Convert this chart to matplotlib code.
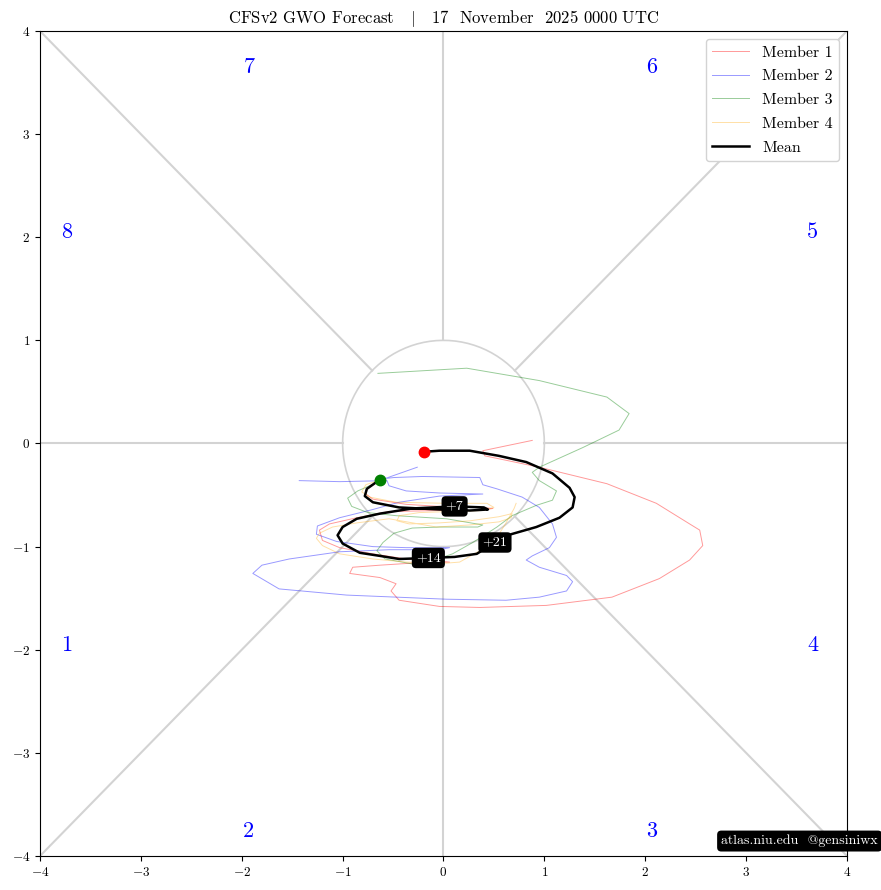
import numpy as np
import matplotlib
matplotlib.use('Agg')
import matplotlib.pyplot as plt

plt.rcParams['font.family'] = ['cmr10', 'DejaVu Serif']
plt.rcParams['mathtext.fontset'] = 'cm'
plt.rcParams['axes.formatter.use_mathtext'] = True
plt.rcParams['axes.unicode_minus'] = True

# ensemble members (GWO phase space, x/y)
m1_x = [-0.65, -0.75, -0.77, -0.70, -0.37, -0.04, 0.36, 0.49, 0.36, -0.04, -0.54, -0.86, -1.13, -1.23,
        -1.20, -1.03, -0.70, -0.37, -0.04, 0.06, -0.31, -0.63, -0.90, -0.93, -0.63, -0.47, -0.52, -0.44,
        -0.04, 0.36, 1.02, 1.67, 2.14, 2.44, 2.57, 2.54, 2.44, 2.11, 1.62, 0.95, 0.41, 0.39, 0.88]
m1_y = [-0.37, -0.43, -0.49, -0.54, -0.59, -0.61, -0.62, -0.63, -0.65, -0.65, -0.66, -0.72, -0.78, -0.84,
        -0.94, -1.01, -1.07, -1.12, -1.14, -1.15, -1.16, -1.18, -1.20, -1.26, -1.30, -1.36, -1.43, -1.52,
        -1.58, -1.59, -1.57, -1.49, -1.31, -1.13, -0.99, -0.84, -0.78, -0.58, -0.39, -0.23, -0.12, -0.07, 0.03]

m2_x = [-0.26, -0.58, -0.49, -0.21, 0.36, 0.39, 0.53, 0.78, 0.95, 1.08, 1.12, 1.05, 0.88, 0.82, 0.95,
        1.22, 1.28, 1.22, 0.95, 0.62, 0.03, -0.96, -1.63, -1.89, -1.80, -1.53, -1.03, -0.54, -0.04, 0.06,
        -0.37, -0.70, -1.06, -1.26, -1.25, -1.03, -0.70, -0.44, -0.04, 0.39, -0.04, -0.37, -0.54, -0.56,
        -1.03, -1.43]
m2_y = [-0.23, -0.34, -0.33, -0.32, -0.33, -0.40, -0.44, -0.52, -0.62, -0.78, -0.91, -1.01, -1.09, -1.13,
        -1.20, -1.28, -1.34, -1.43, -1.49, -1.52, -1.51, -1.47, -1.41, -1.26, -1.18, -1.12, -1.05, -1.03,
        -1.03, -1.01, -1.01, -1.00, -0.95, -0.88, -0.80, -0.72, -0.64, -0.57, -0.51, -0.49, -0.48, -0.46,
        -0.41, -0.36, -0.37, -0.36]

m3_x = [-0.71, -0.85, -0.95, -0.91, -0.75, -0.47, 0.03, 0.39, 0.34, -0.04, -0.31, -0.49, -0.60, -0.66,
        -0.58, -0.24, 0.09, 0.29, 0.53, 0.68, 0.92, 1.08, 1.12, 0.95, 0.88, 0.95, 1.38, 1.74, 1.84, 1.62,
        0.95, 0.23, -0.65]
m3_y = [-0.40, -0.46, -0.53, -0.61, -0.67, -0.70, -0.73, -0.79, -0.81, -0.81, -0.82, -0.87, -0.96, -1.04,
        -1.12, -1.18, -1.07, -0.96, -0.81, -0.70, -0.60, -0.55, -0.46, -0.36, -0.28, -0.23, -0.04, 0.13,
        0.29, 0.45, 0.61, 0.73, 0.68]

m4_x = [-0.65, -0.77, -0.81, -0.73, -0.47, 0.03, 0.43, 0.50, 0.39, 0.06, -0.24, -0.44, -0.46, -0.34,
        -0.04, 0.26, 0.55, 0.68, 0.67, 0.55, 0.26, -0.07, -0.54, -0.86, -1.10, -1.23, -1.26, -1.20, -1.03,
        -0.70, -0.37, 0.03, 0.16, 0.36, 0.53, 0.62, 0.70, 0.72]
m4_y = [-0.36, -0.40, -0.47, -0.52, -0.57, -0.58, -0.58, -0.62, -0.65, -0.66, -0.67, -0.70, -0.75, -0.78,
        -0.77, -0.75, -0.71, -0.68, -0.72, -0.76, -0.79, -0.81, -0.73, -0.77, -0.81, -0.87, -0.92, -0.99,
        -1.07, -1.12, -1.15, -1.16, -1.15, -1.04, -0.91, -0.77, -0.63, -0.58]

mean_x = [-0.63, -0.76, -0.78, -0.70, -0.44, -0.04, 0.26, 0.44, 0.40, 0.11, -0.31, -0.63, -0.86, -1.00,
          -1.05, -1.00, -0.83, -0.63, -0.44, -0.15, 0.11, 0.33, 0.51, 0.67, 0.92, 1.15, 1.28, 1.30, 1.25,
          1.08, 0.82, 0.55, 0.26, -0.04, -0.19]
mean_y = [-0.35, -0.44, -0.51, -0.57, -0.62, -0.64, -0.65, -0.64, -0.62, -0.61, -0.63, -0.68, -0.73, -0.81,
          -0.89, -0.97, -1.06, -1.09, -1.12, -1.11, -1.10, -1.07, -0.96, -0.88, -0.81, -0.72, -0.62, -0.52,
          -0.43, -0.29, -0.18, -0.12, -0.07, -0.07, -0.08]

lead_labels = ['+7', '+14', '+21']
lead_idx = [9, 19, 22]

members = [(m1_x, m1_y, 'red', 0.4, 'Member 1'),
           (m2_x, m2_y, 'blue', 0.4, 'Member 2'),
           (m3_x, m3_y, 'green', 0.4, 'Member 3'),
           (m4_x, m4_y, 'orange', 0.35, 'Member 4')]

phase_nums = ['1', '2', '3', '4', '5', '6', '7', '8']
phase_x = [-3.74, -1.93, 2.06, 3.66, 3.66, 2.06, -1.93, -3.74]
phase_y = [-1.96, -3.76, -3.76, -1.96, 2.05, 3.65, 3.65, 2.05]

fig = plt.figure(figsize=(8.81, 8.90), dpi=100)
ax = fig.add_axes([0.0454, 0.0382, 0.916, 0.927])
ax.set_xlim(-4, 4)
ax.set_ylim(-4, 4)

# phase space guide lines (outside unit circle)
gc = 'lightgray'
ax.plot([-4, -1], [0, 0], color=gc, lw=1.5, zorder=1)
ax.plot([1, 4], [0, 0], color=gc, lw=1.5, zorder=1)
ax.plot([0, 0], [1, 4], color=gc, lw=1.5, zorder=1)
ax.plot([0, 0], [-4, -1], color=gc, lw=1.5, zorder=1)
d = np.sqrt(0.5)
for sx, sy in [(1, 1), (-1, 1), (-1, -1), (1, -1)]:
    ax.plot([sx * d, sx * 4], [sy * d, sy * 4], color=gc, lw=1.5, zorder=1)
t = np.linspace(0, 2 * np.pi, 200)
ax.plot(np.cos(t), np.sin(t), color=gc, lw=1.2, zorder=1)

for lbl, px, py in zip(phase_nums, phase_x, phase_y):
    ax.text(px, py, lbl, color='blue', fontsize=16, ha='center', va='center')

for mx, my, c, a, name in members:
    ax.plot(mx, my, color=c, alpha=a, lw=0.7, label=name, zorder=2)

ax.plot(mean_x, mean_y, color='black', lw=1.8, label='Mean', zorder=3,
        solid_joinstyle='round')
ax.plot(mean_x[0], mean_y[0], 'o', color='green', ms=7.5, zorder=5)
ax.plot(mean_x[-1], mean_y[-1], 'o', color='red', ms=7.5, zorder=5)

for lbl, i in zip(lead_labels, lead_idx):
    ax.text(mean_x[i], mean_y[i], lbl, color='white', fontsize=10, ha='center', va='center', zorder=6,
            bbox=dict(boxstyle='round,pad=0.3', fc='black', ec='none'))

ax.set_xticks(np.arange(-4, 5, 1))
ax.set_yticks(np.arange(-4, 5, 1))
ax.tick_params(labelsize=9.5)

leg = ax.legend(loc='upper right', fontsize=11.5, framealpha=1, edgecolor='lightgray',
                handlelength=2.3, labelspacing=0.6)

ax.set_title('CFSv2 GWO Forecast   $|$   17  November  2025 0000 UTC', fontsize=12, pad=6)

fig.text(0.9965, 0.055, 'atlas.niu.edu  @gensiniwx', color='white', fontsize=10, ha='right', va='center',
         bbox=dict(boxstyle='round,pad=0.3', fc='black', ec='none'))

fig.savefig('out.png', dpi=100)
